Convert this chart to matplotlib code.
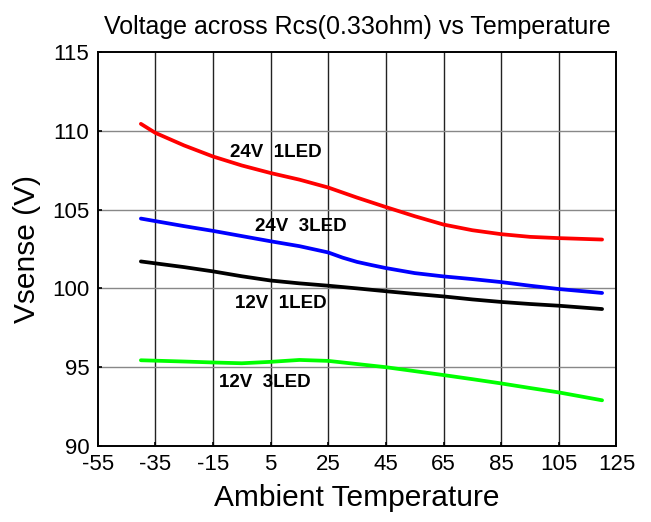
import matplotlib
matplotlib.use('Agg')
import matplotlib.pyplot as plt

plt.rcParams['font.family'] = ['Liberation Sans', 'DejaVu Sans']
plt.rcParams['axes.unicode_minus'] = False

# ambient temperature (C) and sense voltage readings per configuration
temp_24v_1led = [-40, -35, -25, -15, -5, 5, 15, 25, 35, 45, 55, 65, 75, 85, 95, 105, 120]
vs_24v_1led = [110.44, 109.87, 109.07, 108.37, 107.8, 107.32, 106.9, 106.4, 105.76, 105.16,
               104.58, 104.05, 103.69, 103.44, 103.27, 103.19, 103.1]

temp_24v_3led = [-40, -25, -15, -5, 5, 15, 25, 30, 35, 40, 45, 55, 65, 75, 85, 95, 105, 120]
vs_24v_3led = [104.43, 103.95, 103.65, 103.32, 102.99, 102.68, 102.28, 101.95, 101.68, 101.48,
               101.29, 100.97, 100.76, 100.59, 100.4, 100.17, 99.96, 99.71]

temp_12v_1led = [-40, -25, -15, -5, 5, 15, 25, 35, 45, 55, 65, 75, 85, 95, 105, 120]
vs_12v_1led = [101.71, 101.35, 101.08, 100.77, 100.5, 100.32, 100.17, 100.0, 99.82, 99.65,
               99.49, 99.3, 99.14, 99.01, 98.9, 98.69]

temp_12v_3led = [-40, -25, -15, -5, 5, 15, 25, 35, 45, 55, 65, 75, 85, 95, 105, 120]
vs_12v_3led = [95.44, 95.36, 95.3, 95.25, 95.34, 95.46, 95.4, 95.2, 95.0, 94.75,
               94.5, 94.24, 93.97, 93.68, 93.4, 92.9]

x_ticks = [-55, -35, -15, 5, 25, 45, 65, 85, 105, 125]
y_ticks = [90, 95, 100, 105, 110, 115]

fig = plt.figure(figsize=(6.51, 5.22), dpi=100)
ax = fig.add_axes([0.150, 0.1456, 0.797, 0.7548])

kw = dict(lw=2.7, solid_capstyle='round', solid_joinstyle='round')
ax.plot(temp_24v_1led, vs_24v_1led, color='#ff0000', **kw)
ax.plot(temp_24v_3led, vs_24v_3led, color='#0000ff', **kw)
ax.plot(temp_12v_1led, vs_12v_1led, color='#000000', **kw)
ax.plot(temp_12v_3led, vs_12v_3led, color='#00ff00', **kw)

lab = dict(fontsize=13.5, fontweight='bold', ha='center', va='center')
ax.text(6.7, 108.63, '24V  1LED', **lab)
ax.text(15.5, 103.94, '24V  3LED', **lab)
ax.text(8.5, 99.03, '12V  1LED', **lab)
ax.text(2.9, 94.0, '12V  3LED', **lab)

ax.set_xlim(-55, 125)
ax.set_ylim(90, 115)
ax.set_xticks(x_ticks)
ax.set_yticks(y_ticks)
for x in x_ticks[1:-1]:
    ax.axvline(x, color='#222222', lw=1.0, zorder=0)
for y in y_ticks[1:-1]:
    ax.axhline(y, color='#888888', lw=1.0, zorder=0)

ax.tick_params(labelsize=16, direction='in', length=3, width=1.2, pad=6)
for s in ax.spines.values():
    s.set_linewidth(1.4)

ax.set_title('Voltage across Rcs(0.33ohm) vs Temperature', fontsize=18, pad=13)
ax.set_xlabel('Ambient Temperature', fontsize=21.5, labelpad=6)
ax.set_ylabel('Vsense (V)', fontsize=21.5, labelpad=8)

fig.savefig('out.png', dpi=100)
